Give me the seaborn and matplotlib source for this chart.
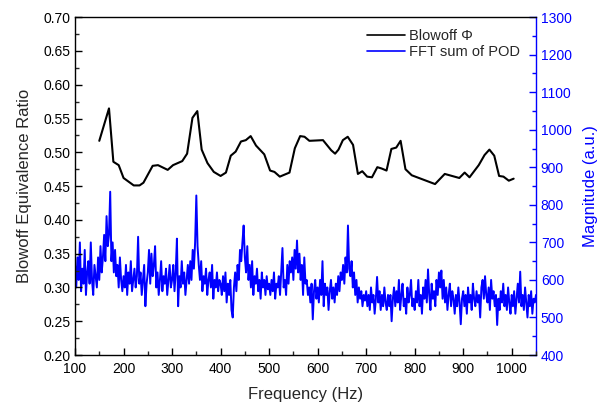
import numpy as np
import pandas as pd
import matplotlib
matplotlib.use("Agg")
import matplotlib.pyplot as plt
from matplotlib.ticker import MultipleLocator
from matplotlib.lines import Line2D
import seaborn as sns

# Blowoff equivalence ratio (left axis)
phi_freq = [150, 170, 179, 190, 200, 221, 233, 241, 260, 271, 291, 302, 321, 331, 342,
            352, 361, 373, 386, 400, 411, 421, 431, 442, 452, 462, 473, 490, 502, 511,
            522, 542, 553, 564, 573, 583, 611, 628, 636, 643, 652, 662, 673, 683, 692,
            702, 712, 723, 732, 742, 752, 762, 771, 781, 794, 842, 862, 892, 903, 913,
            932, 944, 954, 964, 974, 983, 994, 1004]
phi_vals = [0.517, 0.565, 0.486, 0.481, 0.462, 0.451, 0.451, 0.455, 0.480, 0.481, 0.474, 0.481, 0.487, 0.498, 0.551,
            0.561, 0.504, 0.484, 0.471, 0.465, 0.470, 0.495, 0.501, 0.516, 0.518, 0.524, 0.510, 0.497, 0.473, 0.471,
            0.464, 0.470, 0.506, 0.524, 0.523, 0.517, 0.518, 0.503, 0.498, 0.504, 0.518, 0.523, 0.511, 0.468, 0.472,
            0.464, 0.463, 0.478, 0.476, 0.473, 0.505, 0.507, 0.517, 0.475, 0.466, 0.453, 0.468, 0.462, 0.470, 0.463,
            0.481, 0.496, 0.504, 0.495, 0.465, 0.464, 0.458, 0.461]

# FFT sum of POD magnitude (right axis), 2.5 Hz steps from 100 to 1050 Hz
fft_mag = [
    640, 580, 660, 600, 700, 570, 630, 590, 680, 560, 620, 650, 590, 700, 600, 560, 640, 610, 580, 660,
    600, 690, 620, 660, 720, 650, 770, 690, 720, 835, 650, 700, 620, 680, 610, 640, 580, 660, 600, 570,
    610, 580, 640, 560, 620, 590, 650, 570, 600, 630, 580, 610, 715, 590, 620, 560, 600, 640, 530, 590,
    620, 680, 590, 670, 610, 640, 690, 580, 620, 560, 600, 650, 570, 610, 590, 630, 560, 600, 640, 580,
    600, 640, 570, 620, 710, 530, 610, 580, 650, 590, 620, 560, 600, 640, 590, 650, 600, 680, 630, 700,
    825, 690, 640, 600, 650, 570, 610, 590, 630, 560, 600, 620, 580, 640, 550, 600, 580, 620, 570, 600,
    590, 560, 610, 570, 620, 540, 590, 560, 600, 520, 500, 580, 620, 570, 640, 600, 680, 650, 700, 745,
    660, 620, 690, 600, 640, 580, 650, 560, 610, 590, 630, 570, 600, 550, 620, 580, 600, 560, 610, 575,
    590, 560, 600, 570, 620, 550, 590, 580, 610, 560, 620, 685, 580, 600, 560, 640, 590, 650, 620, 660,
    600, 680, 630, 705, 620, 670, 600, 640, 560, 660, 590, 600, 560, 580, 540, 590, 495, 570, 600, 550,
    580, 540, 600, 560, 650, 530, 590, 560, 580, 520, 570, 600, 550, 580, 540, 590, 560, 610, 570, 620,
    600, 640, 590, 660, 620, 745, 630, 610, 650, 580, 620, 560, 600, 540, 580, 550, 570, 530, 560, 545,
    570, 530, 560, 520, 580, 540, 560, 510, 550, 608, 540, 570, 520, 560, 530, 580, 540, 520, 560, 530,
    560, 490, 550, 580, 530, 570, 540, 600, 520, 560, 590, 530, 550, 510, 580, 540, 560, 600, 530, 550,
    520, 570, 540, 600, 530, 560, 510, 580, 550, 600, 540, 628, 560, 520, 590, 550, 570, 530, 600, 560,
    620, 580, 625, 550, 600, 540, 580, 520, 560, 590, 530, 570, 550, 510, 560, 530, 580, 540, 482, 550,
    570, 530, 560, 510, 580, 540, 560, 520, 590, 550, 530, 570, 540, 560, 500, 580, 600, 550, 610, 560,
    540, 580, 520, 600, 550, 570, 530, 560, 480, 550, 520, 570, 540, 590, 530, 560, 520, 580, 540, 510,
    560, 530, 570, 510, 550, 590, 540, 622, 530, 560, 520, 580, 540, 500, 560, 530, 570, 510, 550, 540, 560,
]
fft_freq = np.linspace(100, 1050, len(fft_mag))

sns.set_style("ticks")
plt.rcParams["font.family"] = ["Liberation Sans", "DejaVu Sans"]

fig = plt.figure(figsize=(6.07, 4.09), dpi=100)
ax = fig.add_axes([0.1236, 0.132, 0.7594, 0.826])
ax2 = ax.twinx()

df_fft = pd.DataFrame({"f": fft_freq, "m": fft_mag})
df_phi = pd.DataFrame({"f": phi_freq, "p": phi_vals})

sns.lineplot(data=df_fft, x="f", y="m", ax=ax2, color="#0000ff", lw=1.4, estimator=None, legend=False)
sns.lineplot(data=df_phi, x="f", y="p", ax=ax, color="black", lw=1.5, estimator=None, legend=False)

# draw the phi axes on top of the fft axes
ax.set_zorder(ax2.get_zorder() + 1)
ax.patch.set_visible(False)

ax.set_xlim(100, 1050)
ax.set_ylim(0.20, 0.70)
ax2.set_ylim(400, 1300)

ax.xaxis.set_major_locator(MultipleLocator(100))
ax.xaxis.set_minor_locator(MultipleLocator(50))
ax.yaxis.set_major_locator(MultipleLocator(0.05))
ax.yaxis.set_minor_locator(MultipleLocator(0.025))
ax2.yaxis.set_major_locator(MultipleLocator(100))
ax2.yaxis.set_minor_locator(MultipleLocator(50))
ax.yaxis.set_major_formatter(matplotlib.ticker.FormatStrFormatter("%.2f"))

ax.tick_params(axis="both", which="major", direction="in", length=5, width=1, labelsize=10, colors="black")
ax.tick_params(axis="both", which="minor", direction="in", length=3, width=1)
ax.tick_params(axis="x", pad=5)
ax2.tick_params(axis="y", which="major", direction="in", length=5, width=1, labelsize=10,
                colors="#0000ff")
ax2.tick_params(axis="y", which="minor", direction="in", length=3, width=1, colors="#0000ff")

for s in ["left", "bottom", "top"]:
    ax.spines[s].set_color("black")
    ax.spines[s].set_linewidth(1.0)
ax.spines["right"].set_visible(False)
for s in ["left", "bottom", "top"]:
    ax2.spines[s].set_visible(False)
ax2.spines["right"].set_visible(True)
ax2.spines["right"].set_color("#0000ff")
ax2.spines["right"].set_linewidth(1.0)

ax.set_xlabel("Frequency (Hz)", fontsize=12, labelpad=8)
ax.set_ylabel("Blowoff Equivalence Ratio", fontsize=12, labelpad=8)
ax2.set_ylabel("Magnitude (a.u.)", fontsize=12, color="#0000ff", labelpad=8)

handles = [Line2D([], [], color="black", lw=1.2), Line2D([], [], color="#0000ff", lw=1.2)]
ax.legend(handles, ["Blowoff \u03a6", "FFT sum of POD"], loc="upper right",
          bbox_to_anchor=(0.985, 0.99), frameon=False, fontsize=10.5,
          handlelength=2.6, handletextpad=0.3, labelspacing=0.15, borderaxespad=0.2)

fig.savefig("out.png", dpi=100)
